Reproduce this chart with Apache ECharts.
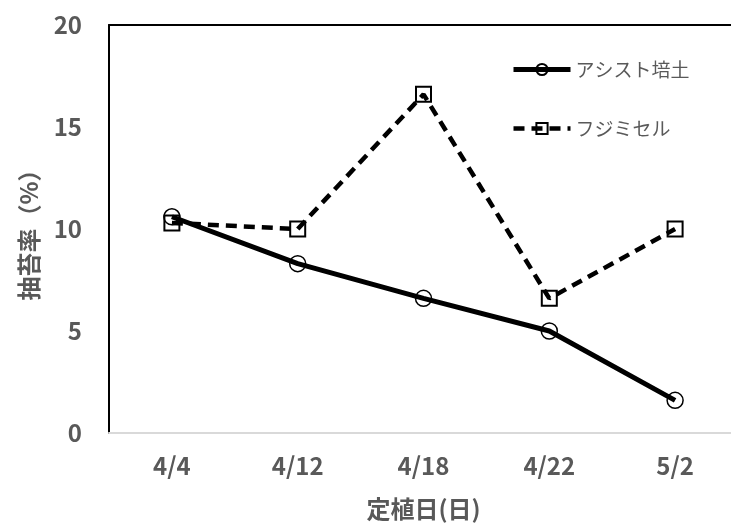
<!DOCTYPE html>
<html>
<head>
<meta charset="utf-8">
<script src="https://cdn.jsdelivr.net/npm/echarts@6/dist/echarts.min.js"></script>
<style>
  html, body { margin: 0; padding: 0; background: #fff; }
  #chart { width: 731px; height: 532px; }
</style>
</head>
<body>
<div id="chart"></div>
<script>
// Planting dates and bolting rate (%) per nursery medium
const categories = ['4/4', '4/12', '4/18', '4/22', '5/2'];
const assistSoil = [10.6, 8.3, 6.6, 5.0, 1.6];
const fujimiCell = [10.3, 10.0, 16.6, 6.6, 10.0];
const yTicks = { min: 0, max: 20, interval: 5 };

const FONT = '"Noto Sans CJK JP", "Noto Sans", sans-serif';
const GREY = '#595959';

const chart = echarts.init(document.getElementById('chart'));
chart.setOption({
  backgroundColor: '#fff',
  animation: false,
  textStyle: { fontFamily: FONT },
  grid: { left: 109, top: 25, right: -7, bottom: 99, containLabel: false, outerBoundsMode: 'none' },
  legend: {
    orient: 'vertical',
    left: 506,
    top: 55,
    itemWidth: 57,
    itemHeight: 14,
    itemGap: 40,
    textStyle: { color: GREY, fontSize: 19, fontFamily: FONT },
    data: [
      { name: 'アシスト培土', lineStyle: { width: 5 } },
      { name: 'フジミセル', lineStyle: { width: 4.5, type: [11, 7] } }
    ]
  },
  xAxis: [{
    type: 'category',
    data: categories,
    boundaryGap: true,
    axisLine: { show: true, lineStyle: { color: '#d9d9d9', width: 2 } },
    axisTick: { show: false },
    axisLabel: { color: GREY, fontSize: 24, fontWeight: 'bold', margin: 21, fontFamily: FONT },
    name: '定植日(日)',
    nameLocation: 'middle',
    nameGap: 64,
    nameTextStyle: { color: GREY, fontSize: 24, fontWeight: 'bold', fontFamily: FONT }
  }, {
    type: 'category',
    position: 'top',
    data: categories,
    axisLine: { show: true, lineStyle: { color: '#000', width: 2 } },
    axisTick: { show: false },
    axisLabel: { show: false }
  }],
  yAxis: {
    type: 'value',
    min: yTicks.min,
    max: yTicks.max,
    interval: yTicks.interval,
    axisLine: { show: true, lineStyle: { color: '#000', width: 2 } },
    axisTick: { show: false },
    splitLine: { show: false },
    axisLabel: { color: GREY, fontSize: 24, fontWeight: 'bold', margin: 27, fontFamily: FONT },
    name: '抽苔率（%）',
    nameLocation: 'middle',
    nameRotate: 90,
    nameGap: 68,
    nameTextStyle: { color: GREY, fontSize: 24, fontWeight: 'bold', fontFamily: FONT }
  },
  series: [{
    name: 'アシスト培土',
    type: 'line',
    data: assistSoil,
    symbol: 'circle',
    symbolSize: 16,
    lineStyle: { color: '#000', width: 5 },
    itemStyle: { color: 'rgba(255,255,255,0)', borderColor: '#000', borderWidth: 1.5 },
    z: 3
  }, {
    name: 'フジミセル',
    type: 'line',
    data: fujimiCell,
    symbol: 'rect',
    symbolSize: 15,
    lineStyle: { color: '#000', width: 4.5, type: [11, 7] },
    itemStyle: { color: 'rgba(255,255,255,0)', borderColor: '#000', borderWidth: 2 },
    z: 2
  }]
});
</script>
</body>
</html>
